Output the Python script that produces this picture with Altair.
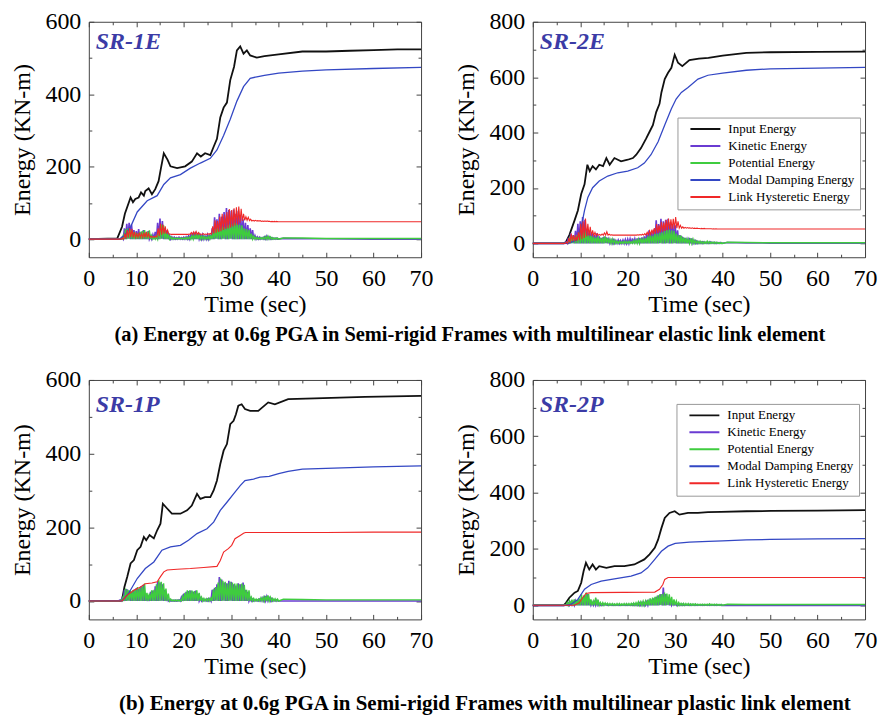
import altair as alt
import pandas as pd

SERIF = "Liberation Serif"
SERIES = ["Input Energy", "Kinetic Energy", "Potential Energy",
          "Modal Damping Energy", "Link Hysteretic Energy"]
COLORS = ["#111111", "#6a3bd2", "#3fcc3f", "#3347c4", "#f02828"]
WIDTHS = [1.8, 1.1, 1.1, 1.6, 1.5]

X_MAJOR = [0, 10, 20, 30, 40, 50, 60, 70]
X_MINOR = [5, 15, 25, 35, 45, 55, 65]
Y6_MAJOR = [0, 200, 400, 600]
Y6_MINOR = [100, 300, 500]
Y8_MAJOR = [0, 200, 400, 600, 800]
Y8_MINOR = [100, 300, 500, 700]

# oscillating series: peaks every 0.5 s from 6.0 s to 39.5 s, troughs halfway between
SPIKE_START = 6.0
SPIKE_STEP = 0.5
TAIL_T = [41, 45, 50, 60, 70]
OSC_LO = [0, 0, 0, 0, 1, 0, 0, 0, 0, 0,
          0, 0, 0, 0, 0, 0, 0, 0, 1, 0,
          0, 0, 0, 0, 0, 0, 0, 0, 0, 0,
          0, 0, 0, 0, 0, 0, 0, 0, 0, 0,
          0, 1, 0, 0, 1, 0, 0, 1, 0, 0,
          0, 0, 0, 0, 0, 0, 0, 0, 0, 0,
          0, 0, 0, 0, 0, 0, 0, 0]

# ---------------- SR-1E ----------------
E1_IN_T = [0, 6.0, 7.0, 7.6, 8.8, 9.3, 9.8, 10.5, 11.0, 11.6, 11.9, 12.6, 13.3, 14.0, 14.7,
           15.2, 15.8, 16.6, 17.2, 18.6, 20.3, 21.7, 22.8, 23.6, 24.5, 25.6, 26.3, 27.0,
           27.7, 28.4, 29.1, 29.8, 30.6, 31.2, 31.9, 32.6, 33.3, 34.0, 35.4, 37, 40, 45,
           50, 55, 60, 65, 70]
E1_IN_V = [0, 2, 34, 70, 115, 102, 111, 115, 129, 120, 133, 140, 124, 138, 160, 196, 237,
           219, 201, 196, 201, 214, 237, 228, 237, 232, 255, 277, 336, 363, 377, 439, 476,
           521, 532, 512, 521, 507, 501, 505, 510, 518, 518, 520, 522, 524, 524]
E1_MD_T = [0, 6.5, 7.5, 8.8, 10.2, 12.3, 14.4, 15.8, 17.2, 19.3, 21.4, 23.5, 25.6, 27.0,
           28.4, 29.8, 31.2, 32.6, 34.0, 35.4, 37, 40, 45, 50, 60, 70]
E1_MD_V = [0, 0, 10, 34, 75, 106, 120, 151, 169, 178, 196, 210, 223, 246, 286, 331, 381,
           421, 444, 448, 452, 458, 464, 467, 471, 474]
E1_KE_HI = [0, 0, 5, 30, 42, 45, 40, 25, 22, 28,
            20, 25, 18, 22, 8, 12, 20, 45, 57, 50,
            30, 25, 10, 6, 5, 4, 5, 4, 5, 6,
            8, 15, 18, 20, 16, 10, 12, 8, 12, 10,
            30, 60, 55, 70, 62, 75, 86, 80, 78, 82,
            70, 78, 66, 55, 45, 39, 30, 25, 10, 6,
            5, 4, 6, 8, 6, 4, 3, 3]
E1_KE_TAIL = [2, 1, 1, 0, 0]
E1_PE_HI = [0, 2, 10, 28, 30, 25, 20, 18, 15, 20,
            22, 25, 20, 24, 10, 5, 8, 25, 40, 38,
            20, 15, 6, 4, 3, 3, 3, 3, 4, 5,
            6, 10, 12, 14, 12, 8, 8, 6, 8, 10,
            20, 28, 32, 30, 35, 33, 38, 40, 42, 45,
            44, 40, 38, 30, 28, 25, 15, 8, 5, 4,
            4, 5, 7, 8, 6, 4, 3, 3]
E1_PE_TAIL = [3, 3, 2, 2, 2]
E1_LH_HI = [0, 0, 3, 15, 25, 30, 28, 20, 15, 18,
            15, 18, 20, 16, 8, 7, 8, 30, 43, 40,
            35, 25, 14, 13, 13, 13, 13, 13, 13, 13,
            14, 18, 20, 21, 18, 14, 15, 14, 15, 16,
            35, 52, 50, 62, 70, 68, 75, 83, 80, 85,
            88, 90, 84, 70, 62, 60, 55, 52, 52, 51,
            51, 50, 50, 50, 49, 49, 49, 49]
E1_LH_LO = [0, 0, 0, 2, 5, 6, 5, 5, 5, 5,
            5, 5, 5, 5, 5, 5, 6, 8, 12, 15,
            15, 14, 13, 13, 13, 13, 13, 13, 13, 13,
            13, 13, 13, 13, 13, 13, 13, 13, 13, 14,
            16, 18, 20, 22, 25, 28, 30, 32, 35, 38,
            40, 45, 50, 52, 52, 51, 50, 50, 50, 50,
            49, 49, 49, 49, 48, 48, 48, 48]
E1_LH_TAIL = [48, 48, 48, 48, 48]

# ---------------- SR-2E ----------------
E2_IN_T = [0, 6.5, 7.0, 7.7, 8.8, 9.5, 10.2, 10.9, 11.5, 12.0, 12.6, 13.3, 14.0, 14.8, 15.5,
           16.2, 17.2, 18.6, 20.0, 21.1, 21.8, 22.8, 23.9, 24.6, 25.3, 26.0, 26.7, 27.1,
           27.8, 28.5, 29.2, 29.9, 30.6, 31.5, 33.0, 35.0, 37.0, 40, 45, 50, 60, 70]
E2_IN_V = [0, 0, 5, 30, 83, 119, 178, 213, 284, 261, 279, 267, 284, 279, 308, 284, 308, 296,
           302, 308, 320, 344, 379, 403, 427, 474, 504, 545, 593, 616, 634, 681, 652, 640,
           662, 667, 670, 678, 688, 690, 691, 692]
E2_MD_T = [0, 7.5, 9.2, 10.2, 10.9, 11.6, 12.6, 14.0, 15.8, 17.9, 20.0, 22.1, 23.5, 24.9,
           26.4, 27.8, 29.2, 30.2, 31.3, 32.7, 34.8, 36.9, 40, 45, 50, 60, 70]
E2_MD_V = [0, 0, 12, 59, 119, 166, 201, 225, 243, 255, 261, 273, 290, 320, 367, 427, 486,
           521, 545, 563, 593, 607, 615, 625, 630, 633, 635]
E2_KE_HI = [0, 0, 5, 20, 36, 30, 45, 71, 80, 95,
            85, 53, 45, 36, 30, 36, 25, 20, 24, 22,
            15, 12, 12, 10, 12, 10, 12, 14, 15, 16,
            18, 16, 18, 20, 22, 25, 35, 47, 40, 50,
            83, 70, 89, 80, 85, 89, 77, 70, 65, 47,
            30, 24, 20, 15, 20, 18, 10, 8, 6, 5,
            5, 4, 4, 5, 4, 3, 3, 3]
E2_KE_TAIL = [3, 2, 1, 1, 1]
E2_PE_HI = [0, 0, 3, 15, 25, 22, 30, 40, 35, 40,
            45, 30, 28, 25, 22, 25, 20, 22, 25, 20,
            15, 15, 12, 8, 8, 6, 8, 7, 8, 6,
            10, 12, 15, 18, 16, 20, 25, 30, 28, 35,
            35, 38, 40, 45, 48, 50, 47, 45, 35, 30,
            28, 22, 20, 15, 18, 15, 10, 8, 8, 6,
            6, 8, 6, 5, 5, 4, 3, 3]
E2_PE_TAIL = [4, 3, 2, 2, 2]
E2_LH_HI = [0, 0, 5, 20, 35, 30, 25, 40, 71, 80,
            90, 71, 60, 47, 40, 35, 32, 34, 38, 42,
            33, 31, 30, 30, 30, 30, 30, 30, 30, 30,
            30, 30, 31, 32, 33, 35, 40, 45, 50, 55,
            70, 65, 78, 75, 85, 90, 87, 89, 95, 80,
            65, 60, 58, 57, 56, 56, 55, 55, 54, 54,
            54, 53, 53, 53, 53, 53, 52, 52]
E2_LH_LO = [0, 0, 0, 3, 8, 8, 10, 12, 15, 20,
            25, 28, 28, 28, 28, 29, 29, 29, 30, 30,
            30, 30, 30, 30, 30, 30, 30, 30, 30, 30,
            30, 30, 30, 30, 30, 30, 31, 32, 33, 35,
            38, 40, 42, 45, 48, 50, 52, 53, 55, 55,
            55, 55, 55, 55, 54, 54, 54, 54, 53, 53,
            53, 53, 53, 52, 52, 52, 52, 52]
E2_LH_TAIL = [52, 52, 52, 52, 52]

# ---------------- SR-1P ----------------
P1_IN_T = [0, 6.5, 7.0, 7.5, 8.1, 8.8, 9.5, 10.2, 10.9, 11.6, 12.1, 12.8, 13.7, 14.4, 15.1,
           15.6, 16.5, 17.5, 19.3, 20.7, 21.7, 22.8, 23.5, 24.5, 25.6, 26.3, 27.0, 27.7,
           28.4, 29.1, 29.8, 30.5, 31.0, 31.5, 32.2, 32.9, 34.0, 35.7, 37.8, 39.2, 42,
           47.6, 58.2, 70]
P1_IN_V = [0, 0, 3, 38, 66, 102, 111, 138, 147, 174, 165, 179, 170, 192, 210, 264, 251,
           237, 237, 246, 259, 291, 277, 282, 282, 300, 327, 372, 408, 426, 480, 489, 507,
           530, 534, 521, 516, 516, 539, 534, 548, 550, 554, 557]
P1_MD_T = [0, 7.0, 8.4, 10.2, 11.9, 13.7, 15.4, 17.2, 19.3, 21.0, 22.8, 24.9, 26.3, 27.7,
           29.1, 30.5, 31.9, 32.9, 34.7, 36.1, 38, 40, 42, 45, 50, 60, 70]
P1_MD_V = [0, 0, 21, 61, 88, 106, 138, 147, 151, 165, 183, 196, 214, 246, 268, 291, 313,
           327, 331, 336, 338, 346, 352, 358, 360, 364, 367]
P1_LH_T = [0, 7.0, 8.1, 9.5, 10.9, 11.9, 13.3, 14.4, 15.1, 15.8, 16.5, 18.6, 21.4, 24.2,
           27.0, 27.7, 28.4, 29.4, 30.1, 30.8, 31.9, 32.6, 33.0, 40, 50, 60, 70]
P1_LH_V = [0, 0, 16, 29, 38, 47, 49, 52, 66, 79, 84, 86, 88, 91, 94, 110, 133, 142, 151,
           169, 178, 184, 186, 186, 186, 187, 187]
P1_KE_HI = [0, 2, 8, 30, 32, 28, 25, 30, 35, 32,
            40, 44, 20, 15, 25, 28, 40, 52, 50, 45,
            30, 10, 3, 2, 2, 2, 3, 10, 20, 25,
            27, 28, 25, 28, 20, 8, 5, 4, 5, 6,
            30, 36, 45, 65, 58, 50, 48, 55, 52, 45,
            42, 48, 45, 50, 30, 25, 8, 5, 3, 3,
            5, 8, 10, 12, 8, 6, 4, 3]
P1_KE_TAIL = [0, 0, 0, 0, 0]
P1_PE_HI = [0, 3, 11, 34, 30, 28, 29, 32, 38, 35,
            40, 47, 22, 20, 29, 30, 45, 56, 52, 48,
            34, 20, 5, 3, 3, 3, 3, 12, 22, 29,
            29, 28, 27, 29, 22, 10, 7, 6, 7, 8,
            32, 38, 50, 61, 55, 52, 47, 52, 50, 47,
            47, 45, 47, 44, 30, 29, 10, 7, 5, 5,
            8, 10, 14, 15, 10, 7, 6, 5]
P1_PE_TAIL = [5, 4, 3, 3, 3]

# ---------------- SR-2P ----------------
P2_IN_T = [0, 6.5, 7.0, 7.7, 8.8, 9.5, 10.2, 10.7, 11.2, 11.9, 12.6, 13.3, 14.0, 15.5, 17.2,
           19.3, 21.4, 23.5, 24.6, 25.7, 26.4, 27.1, 27.8, 28.8, 29.9, 30.9, 32.7, 34.8,
           36.9, 39.7, 45, 50.2, 60, 70]
P2_IN_V = [0, 0, 9, 27, 45, 51, 80, 121, 151, 127, 145, 127, 139, 133, 139, 139, 145, 163,
           181, 204, 233, 274, 310, 328, 334, 322, 328, 328, 331, 332, 334, 335, 336, 338]
P2_MD_T = [0, 7.0, 8.1, 9.5, 10.9, 12.3, 14.4, 17.2, 20.7, 22.8, 24.2, 25.7, 27.1, 28.5,
           30.0, 33, 37, 40, 45, 50, 60, 70]
P2_MD_V = [0, 0, 4, 21, 57, 74, 86, 94, 104, 115, 133, 163, 192, 210, 220, 224, 227, 229,
           232, 234, 236, 237]
P2_LH_T = [0, 8.8, 9.8, 10.5, 11.2, 12.3, 25.7, 26.7, 27.4, 27.8, 28.5, 40, 50, 60, 70]
P2_LH_V = [0, 0, 9, 27, 42, 45, 47, 57, 74, 92, 99, 99, 99, 99, 99]
P2_KE_HI = [0, 0, 3, 8, 10, 12, 15, 18, 20, 25,
            35, 40, 15, 10, 12, 15, 6, 4, 5, 4,
            3, 3, 3, 2, 3, 2, 3, 3, 3, 3,
            4, 5, 6, 8, 10, 8, 12, 15, 20, 25,
            30, 35, 40, 63, 40, 30, 15, 10, 6, 5,
            4, 4, 3, 3, 3, 3, 3, 2, 2, 2,
            2, 2, 2, 2, 2, 2, 2, 2]
P2_KE_TAIL = [0, 0, 0, 0, 0]
P2_PE_HI = [0, 2, 10, 15, 20, 21, 18, 25, 39, 35,
            45, 40, 21, 15, 27, 20, 10, 9, 8, 7,
            6, 6, 5, 6, 6, 5, 6, 6, 6, 7,
            8, 9, 12, 12, 14, 15, 20, 25, 27, 30,
            35, 39, 40, 45, 42, 39, 30, 21, 15, 10,
            7, 7, 6, 6, 5, 5, 5, 4, 4, 4,
            4, 4, 5, 4, 4, 4, 3, 3]
P2_PE_TAIL = [4, 3, 3, 3, 3]

CAPTION_A = "(a) Energy at 0.6g PGA in Semi-rigid Frames with multilinear elastic link element"
CAPTION_B = "(b) Energy at 0.6g PGA in Semi-rigid Frames with multilinear plastic link element"


def smooth(name, ts, vs):
    return [{"series": name, "t": t, "v": v} for t, v in zip(ts, vs)]


def spiky(name, hi, lo, tail, phase):
    rows = [{"series": name, "t": 0.0, "v": lo[0]}]
    for i, (h, l) in enumerate(zip(hi, lo)):
        t = SPIKE_START + i * SPIKE_STEP + phase
        rows.append({"series": name, "t": t, "v": h})
        rows.append({"series": name, "t": t + SPIKE_STEP / 2, "v": l})
    rows += [{"series": name, "t": t, "v": v} for t, v in zip(TAIL_T, tail)]
    return rows


def frame(rows):
    df = pd.DataFrame(rows)
    df["k"] = df["series"].map({s: i for i, s in enumerate(SERIES)})
    return df.sort_values(["k", "t"], kind="stable").drop(columns="k")


E1 = frame(smooth(SERIES[0], E1_IN_T, E1_IN_V)
           + spiky(SERIES[1], E1_KE_HI, OSC_LO, E1_KE_TAIL, 0.0)
           + spiky(SERIES[2], E1_PE_HI, OSC_LO, E1_PE_TAIL, 0.25)
           + smooth(SERIES[3], E1_MD_T, E1_MD_V)
           + spiky(SERIES[4], E1_LH_HI, E1_LH_LO, E1_LH_TAIL, 0.1))
E2 = frame(smooth(SERIES[0], E2_IN_T, E2_IN_V)
           + spiky(SERIES[1], E2_KE_HI, OSC_LO, E2_KE_TAIL, 0.0)
           + spiky(SERIES[2], E2_PE_HI, OSC_LO, E2_PE_TAIL, 0.25)
           + smooth(SERIES[3], E2_MD_T, E2_MD_V)
           + spiky(SERIES[4], E2_LH_HI, E2_LH_LO, E2_LH_TAIL, 0.1))
P1 = frame(smooth(SERIES[0], P1_IN_T, P1_IN_V)
           + spiky(SERIES[1], P1_KE_HI, OSC_LO, P1_KE_TAIL, 0.0)
           + spiky(SERIES[2], P1_PE_HI, OSC_LO, P1_PE_TAIL, 0.25)
           + smooth(SERIES[3], P1_MD_T, P1_MD_V)
           + smooth(SERIES[4], P1_LH_T, P1_LH_V))
P2 = frame(smooth(SERIES[0], P2_IN_T, P2_IN_V)
           + spiky(SERIES[1], P2_KE_HI, OSC_LO, P2_KE_TAIL, 0.0)
           + spiky(SERIES[2], P2_PE_HI, OSC_LO, P2_PE_TAIL, 0.25)
           + smooth(SERIES[3], P2_MD_T, P2_MD_V)
           + smooth(SERIES[4], P2_LH_T, P2_LH_V))

W = 333
TICK = "#444444"
DUMMY = pd.DataFrame({"t": [0.0], "v": [0.0]})


def minor_axis(values, size, orient):
    return alt.Axis(values=values, orient=orient, offset=-size, tickSize=size, labels=False,
                    title=None, domain=False, grid=False, tickColor=TICK, ticks=True)


def panel(df, ymax, ymajor, yminor, label, label_y, legend_pos, height):
    xs = alt.Scale(domain=[0, 70], nice=False, zero=False)
    ys = alt.Scale(domain=[-50, ymax], nice=False, zero=False)
    if legend_pos is None:
        leg = None
    else:
        leg = alt.Legend(title=None, orient="none", legendX=legend_pos[0], legendY=legend_pos[1],
                         symbolType="stroke", symbolSize=900, symbolStrokeWidth=2,
                         clipHeight=13, rowPadding=3, labelFont=SERIF, labelFontSize=13,
                         labelColor="black", strokeColor="#999999", fillColor="white",
                         padding=5, symbolOffset=7, labelOffset=7, labelLimit=300)
    lines = alt.Chart(df).mark_line(interpolate="linear").encode(
        x=alt.X("t:Q", scale=xs, axis=alt.Axis(
            values=X_MAJOR, title="Time (sec)", offset=-5, tickSize=5, labelPadding=9,
            domain=False, grid=False, labelFlush=False, labelOverlap=False,
            labelFont=SERIF, labelFontSize=24, labelColor="black", titleFont=SERIF,
            titleFontSize=24, titleFontWeight="normal", titleColor="black", titlePadding=2,
            tickColor=TICK)),
        y=alt.Y("v:Q", scale=ys, axis=alt.Axis(
            values=ymajor, title="Energy (KN-m)", offset=-5, tickSize=5, labelPadding=8,
            domain=False, grid=False, labelOverlap=False,
            labelFont=SERIF, labelFontSize=24, labelColor="black", titleFont=SERIF,
            titleFontSize=24, titleFontWeight="normal", titleColor="black", titlePadding=10,
            tickColor=TICK)),
        color=alt.Color("series:N", scale=alt.Scale(domain=SERIES, range=COLORS), legend=leg),
        strokeWidth=alt.StrokeWidth("series:N", scale=alt.Scale(domain=SERIES, range=WIDTHS),
                                    legend=None),
    )
    base = alt.Chart(DUMMY).mark_point(opacity=0)
    minor = base.encode(x=alt.X("t:Q", scale=xs, axis=minor_axis(X_MINOR, 3, "bottom")),
                        y=alt.Y("v:Q", scale=ys, axis=minor_axis(yminor, 3, "left")))
    top = base.encode(x=alt.X("t:Q", scale=xs, axis=minor_axis(X_MAJOR, 5, "top")),
                      y=alt.Y("v:Q", scale=ys, axis=minor_axis(ymajor, 5, "right")))
    topminor = base.encode(x=alt.X("t:Q", scale=xs, axis=minor_axis(X_MINOR, 3, "top")),
                           y=alt.Y("v:Q", scale=ys, axis=minor_axis(yminor, 3, "right")))
    text = alt.Chart(pd.DataFrame({"label": [label]})).mark_text(
        font=SERIF, fontSize=24, fontWeight="bold", fontStyle="italic", color="#3b3ba6",
        align="left", baseline="alphabetic").encode(
        x=alt.value(7), y=alt.value(label_y), text="label:N")
    return alt.layer(lines, minor, top, topminor, text).resolve_axis(
        x="independent", y="independent").properties(width=W, height=height)


def caption(text, size, offset, dx):
    return alt.TitleParams(text, orient="bottom", anchor="middle", font=SERIF, fontSize=size,
                           fontWeight="bold", color="black", offset=offset, dx=dx)


row1 = alt.hconcat(
    panel(E1, 600, Y6_MAJOR, Y6_MINOR, "SR-1E", 27, None, 236),
    panel(E2, 800, Y8_MAJOR, Y8_MINOR, "SR-2E", 27, (145, 96), 236),
    spacing=20).resolve_scale(color="independent").properties(
    title=caption(CAPTION_A, 20.5, 8, 26))
row2 = alt.hconcat(
    panel(P1, 600, Y6_MAJOR, Y6_MINOR, "SR-1P", 32, None, 240),
    panel(P2, 800, Y8_MAJOR, Y8_MINOR, "SR-2P", 32, (144, 24), 240),
    spacing=20).resolve_scale(color="independent").properties(
    title=caption(CAPTION_B, 21, 14, 41))

chart = alt.vconcat(row1, row2, spacing=22).resolve_scale(color="independent").properties(
    padding={"left": 2, "right": 0, "top": 0, "bottom": 0},
    background="white",
).configure_view(stroke=TICK, strokeWidth=1)

chart.save("out.html", embed_options={"renderer": "svg", "actions": False})
